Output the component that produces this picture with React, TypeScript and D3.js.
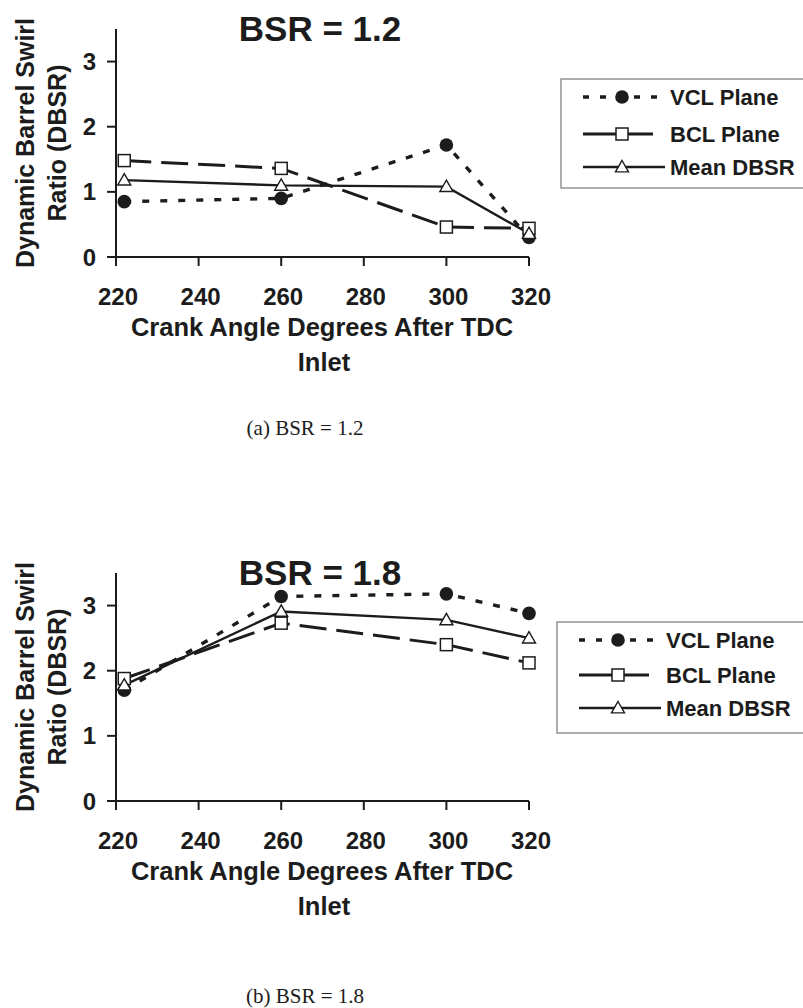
import React from "react";
import * as d3 from "d3";

const crankAngles = [222, 260, 300, 320];
const xTicks = [220, 240, 260, 280, 300, 320];
const yTicks = [0, 1, 2, 3];

const vclA = [0.85, 0.9, 1.72, 0.3];
const bclA = [1.48, 1.36, 0.46, 0.44];
const meanA = [1.18, 1.1, 1.08, 0.36];

const vclB = [1.7, 3.14, 3.18, 2.88];
const bclB = [1.88, 2.73, 2.4, 2.12];
const meanB = [1.78, 2.91, 2.78, 2.5];

const seriesNames = ["VCL Plane", "BCL Plane", "Mean DBSR"];

const SANS = "'Liberation Sans', Arial, sans-serif";
const SERIF = "'Liberation Serif', 'Times New Roman', serif";
const INK = "#1c1c1c";

const styles = [
  { dash: "7,11", width: 3.4, marker: "circle" },
  { dash: "27,10", width: 3, marker: "square" },
  { dash: null, width: 2.4, marker: "triangle" },
];

function Marker({ type, x, y }: { type: string; x: number; y: number }) {
  if (type === "circle") return <circle cx={x} cy={y} r={6.8} fill={INK} />;
  if (type === "square")
    return <rect x={x - 6} y={y - 6} width={12} height={12} fill="#fff" stroke={INK} strokeWidth={1.5} />;
  const s = 6.5;
  return (
    <path
      d={`M${x},${y - s} L${x + s},${y + s * 0.75} L${x - s},${y + s * 0.75} Z`}
      fill="#fff"
      stroke={INK}
      strokeWidth={1.4}
    />
  );
}

function Panel({
  oy,
  title,
  data,
  legendBox,
}: {
  oy: number;
  title: string;
  data: number[][];
  legendBox: { x: number; y: number; h: number; rows: number[] };
}) {
  const x = d3.scaleLinear().domain([220, 320]).range([116, 529]);
  const y = d3.scaleLinear().domain([0, 3.5]).range([oy + 257, oy + 29]);
  const line = d3
    .line<number>()
    .x((_, i) => x(crankAngles[i]))
    .y((v) => y(v));
  return (
    <g>
      <text x={320} y={oy + 41} textAnchor="middle" fontFamily={SANS} fontWeight="bold" fontSize={35} fill={INK}>
        {title}
      </text>
      <g transform={`translate(25, ${oy + 143}) rotate(-90)`}>
        <text x={0} y={9} textAnchor="middle" fontFamily={SANS} fontWeight="bold" fontSize={25} fill={INK}>
          Dynamic Barrel Swirl
        </text>
        <text x={0} y={41} textAnchor="middle" fontFamily={SANS} fontWeight="bold" fontSize={25} fill={INK}>
          Ratio (DBSR)
        </text>
      </g>
      <line x1={x(220)} x2={x(220)} y1={y(3.5)} y2={y(0)} stroke={INK} strokeWidth={2} />
      <line x1={x(220)} x2={x(320)} y1={y(0)} y2={y(0)} stroke={INK} strokeWidth={2} />
      {yTicks.map((t) => (
        <g key={"y" + t}>
          <line x1={x(220) - 9} x2={x(220)} y1={y(t)} y2={y(t)} stroke={INK} strokeWidth={2} />
          <text x={96} y={y(t) + 8.5} textAnchor="end" fontFamily={SANS} fontWeight="bold" fontSize={24} fill={INK}>
            {t}
          </text>
        </g>
      ))}
      {xTicks.map((t) => (
        <g key={"x" + t}>
          <line x1={x(t)} x2={x(t)} y1={y(0)} y2={y(0) + 9} stroke={INK} strokeWidth={2} />
          <text x={x(t) + 2} y={oy + 305} textAnchor="middle" fontFamily={SANS} fontWeight="bold" fontSize={24} fill={INK}>
            {t}
          </text>
        </g>
      ))}
      <text x={322} y={oy + 336} textAnchor="middle" fontFamily={SANS} fontWeight="bold" fontSize={25.5} fill={INK}>
        Crank Angle Degrees After TDC
      </text>
      <text x={324} y={oy + 371} textAnchor="middle" fontFamily={SANS} fontWeight="bold" fontSize={25.5} fill={INK}>
        Inlet
      </text>
      {data.map((vals, si) => (
        <path
          key={"l" + si}
          d={line(vals) || ""}
          fill="none"
          stroke={INK}
          strokeWidth={styles[si].width}
          strokeDasharray={styles[si].dash || undefined}
        />
      ))}
      {data.map((vals, si) =>
        vals.map((v, i) => <Marker key={`m${si}-${i}`} type={styles[si].marker} x={x(crankAngles[i])} y={y(v)} />)
      )}
      <rect
        x={legendBox.x}
        y={legendBox.y}
        width={300}
        height={legendBox.h}
        fill="none"
        stroke="#777"
        strokeWidth={1.2}
      />
      {seriesNames.map((name, si) => {
        const ly = legendBox.rows[si];
        const x1 = legendBox.x + 22;
        const x2 = si === 2 ? legendBox.x + 104 : si === 1 ? legendBox.x + 92 : legendBox.x + 97;
        const mx = legendBox.x + 61;
        return (
          <g key={"lg" + si}>
            <line
              x1={x1}
              x2={x2}
              y1={ly}
              y2={ly}
              stroke={INK}
              strokeWidth={styles[si].width}
              strokeDasharray={si === 0 ? "6,11" : undefined}
            />
            <Marker type={styles[si].marker} x={mx} y={ly} />
            <text x={legendBox.x + 109} y={ly + 8} fontFamily={SANS} fontWeight="bold" fontSize={22} fill={INK}>
              {name}
            </text>
          </g>
        );
      })}
    </g>
  );
}

export default function App() {
  return (
    <svg
      width={803}
      height={1008}
      viewBox="0 0 803 1008"
      style={{ position: "absolute", left: 0, top: 0, background: "#fff" }}
    >
      <rect x={0} y={0} width={803} height={1008} fill="#fff" />
      <Panel
        oy={0}
        title="BSR = 1.2"
        data={[vclA, bclA, meanA]}
        legendBox={{ x: 561, y: 79, h: 109, rows: [97, 134, 167] }}
      />
      <text x={305} y={435} textAnchor="middle" fontFamily={SERIF} fontSize={21} fill={INK}>
        (a) BSR = 1.2
      </text>
      <Panel
        oy={544}
        title="BSR = 1.8"
        data={[vclB, bclB, meanB]}
        legendBox={{ x: 557, y: 622, h: 111, rows: [640, 675, 708] }}
      />
      <text x={305} y={1003} textAnchor="middle" fontFamily={SERIF} fontSize={21} fill={INK}>
        (b) BSR = 1.8
      </text>
    </svg>
  );
}
